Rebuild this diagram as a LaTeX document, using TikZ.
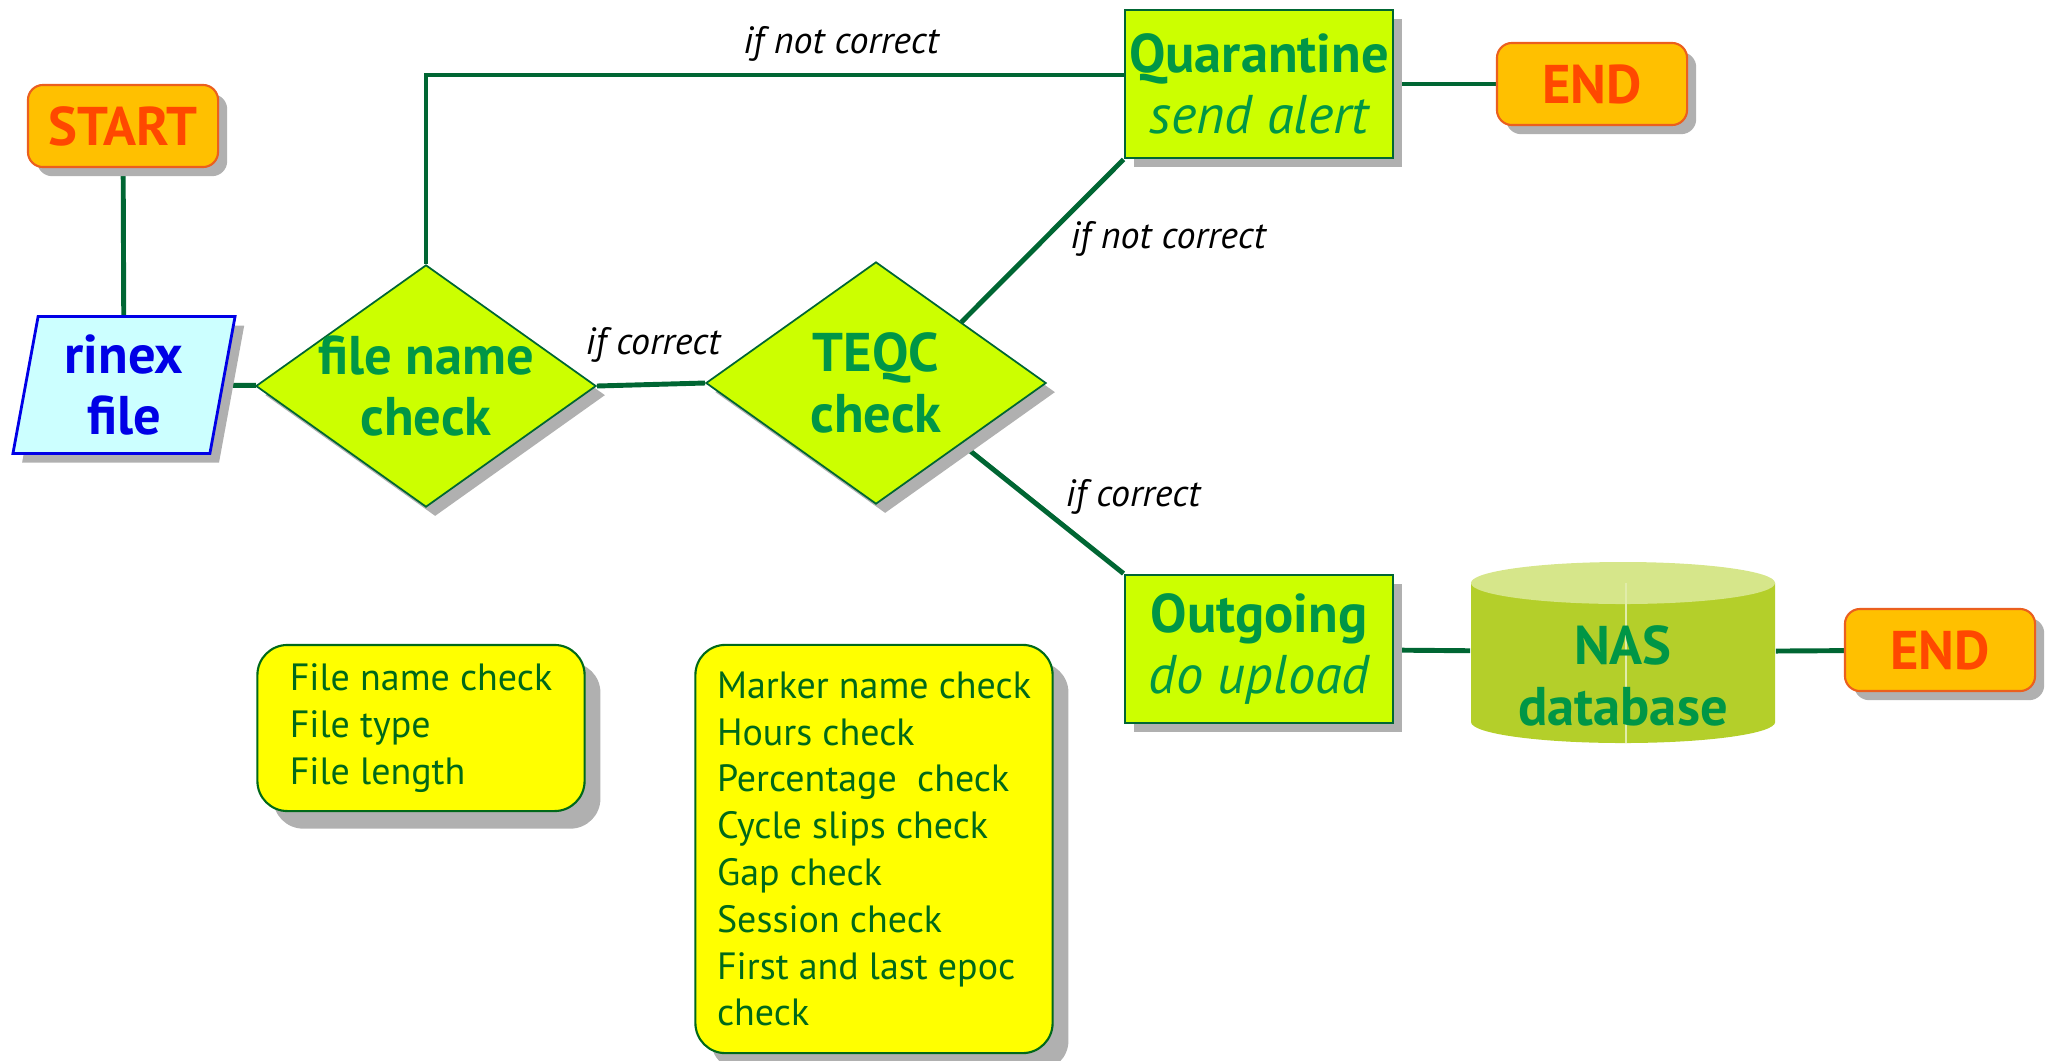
\documentclass[tikz,border=0pt]{standalone}
\usepackage{fontspec}
\setmainfont{PT Sans}
\usetikzlibrary{shapes.geometric,shadows,calc,backgrounds}

\definecolor{linkgreen}{RGB}{0,102,51}
\definecolor{termfill}{RGB}{255,192,0}
\definecolor{termline}{RGB}{235,95,30}
\definecolor{termtext}{RGB}{255,72,0}
\definecolor{limefill}{RGB}{204,255,0}
\definecolor{nodetext}{RGB}{0,150,70}
\definecolor{rinexfill}{RGB}{204,255,255}
\definecolor{rinexblue}{RGB}{0,0,230}
\definecolor{notefill}{RGB}{255,255,0}
\definecolor{notetext}{RGB}{0,105,25}
\definecolor{dbbody}{RGB}{180,207,42}
\definecolor{dbtop}{RGB}{214,230,138}
\definecolor{shadowgray}{RGB}{176,176,176}

\begin{document}
\begin{tikzpicture}[x=0.01cm, y=-0.01cm,
  boxshadow/.style={drop shadow={shadow xshift=2.6pt, shadow yshift=-2.6pt, fill=shadowgray, opacity=1}},
  noteshadow/.style={drop shadow={shadow xshift=4.5pt, shadow yshift=-5pt, fill=shadowgray, opacity=1}},
  link/.style={draw=linkgreen, line width=1.4pt},
  maintext/.style={font=\fontsize{15.5}{17.5}\selectfont\bfseries, align=center},
  terminal/.style={maintext, rectangle, rounded corners=0.15cm, draw=termline, line width=0.6pt, fill=termfill, text=termtext, minimum width=1.9cm, minimum height=0.82cm, inner sep=0pt, boxshadow},
  rinexbox/.style={maintext, trapezium, trapezium left angle=76, trapezium right angle=104, trapezium stretches body, draw=rinexblue, line width=0.8pt, fill=rinexfill, text=rinexblue, minimum width=2.22cm, minimum height=1.37cm, inner sep=0pt, boxshadow},
  decision/.style={maintext, diamond, aspect=1.4, draw=linkgreen, line width=0.5pt, fill=limefill, text=nodetext, minimum width=3.4cm, minimum height=2.42cm, inner sep=-3pt, boxshadow},
  action/.style={maintext, rectangle, draw=linkgreen, line width=0.8pt, fill=limefill, text=nodetext, minimum width=2.68cm, minimum height=1.48cm, inner sep=0pt, boxshadow},
  dbshape/.style={rectangle, minimum width=3.04cm, minimum height=1.81cm, inner sep=0pt},
  note/.style={rectangle, rounded corners=0.3cm, draw=notetext, line width=0.6pt, fill=notefill, text=notetext, font=\fontsize{10.8}{13.3}\selectfont, align=left, inner sep=0pt, noteshadow},
  lbl/.style={font=\fontsize{10.8}{12}\selectfont\itshape, text=black, inner sep=1pt}
]
\useasboundingbox (0,0) rectangle (2051,1060);

% Flow nodes
\node[terminal] (start) at (123,126) {START};
\node[rinexbox] (rinex) at (124,385) {rinex\\file};
\node[decision] (fnc) at (426,386) {file name\\check};
\node[decision] (teqc) at (876,383) {TEQC\\check};
\node[action] (quar) at (1259,84) {Quarantine\\{\mdseries\itshape send alert}};
\node[terminal] (end1) at (1592,84) {END};
\node[action] (outg) at (1259,649) {Outgoing\\{\mdseries\itshape do upload}};
\node[terminal] (end2) at (1940,650) {END};

% Database cylinder
\node[dbshape] (nas) at (1623,652) {};
\fill[dbbody] (1471,583) -- (1471,722) arc[start angle=180, end angle=360, x radius=1.52cm, y radius=0.21cm] -- (1775,583) -- cycle;
\fill[dbtop] (1623,583) ellipse[x radius=1.52cm, y radius=0.21cm];
\draw[white!60!dbbody, line width=0.3pt] (1626,583) -- (1626,743);
\node[maintext, text=nodetext] (nastxt) at (1623,676) {NAS\\database};

% Check lists
\node[note, minimum width=3.27cm, minimum height=1.66cm] (namelist) at (421,728)
  {File name check\\File type\\File length};
\node[note, minimum width=3.57cm, minimum height=4.08cm] (teqclist) at (874,849)
  {Marker name check\\Hours check\\Percentage~ check\\Cycle slips check\\Gap check\\Session check\\First and last epoc\\check};

% Connectors
\begin{scope}[on background layer]
\draw[link] (start) -- (rinex);
\draw[link] (rinex) -- (fnc);
\draw[link] (fnc.east) -- (teqc.west);
\draw[link] (fnc.north) |- ($(quar.west)+(0,-9)$);
\draw[link] (teqc.north east) -- (quar.south west);
\draw[link] (teqc.south east) -- (outg.north west);
\draw[link] (quar) -- (end1);
\draw[link] (outg) -- (nas);
\draw[link] (nas) -- (end2);
\end{scope}

% Labels
\node[lbl] (lnot1) at (841,44) {if not correct};
\node[lbl] (lok1) at (653,345) {if correct};
\node[lbl] (lnot2) at (1168,239) {if not correct};
\node[lbl] (lok2) at (1133,497) {if correct};
\end{tikzpicture}
\end{document}
